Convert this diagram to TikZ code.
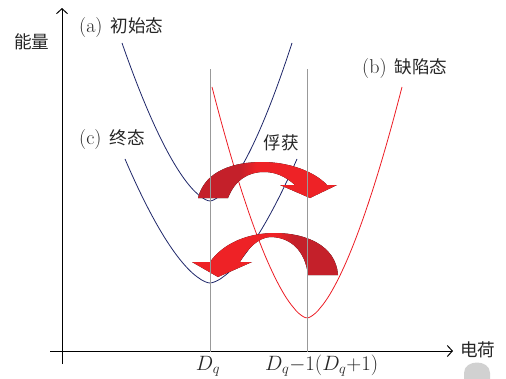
\documentclass[tikz,border=0pt]{standalone}
\usepackage{fontspec}
\newfontfamily\cjk[Scale=0.88]{Noto Sans CJK SC}
\usetikzlibrary{arrows.meta}
\definecolor{curveblue}{RGB}{30,38,105}
\definecolor{curvered}{RGB}{236,28,36}
\definecolor{arrowred}{RGB}{238,34,38}
\definecolor{arrowdark}{RGB}{196,32,42}
\pgfdeclarehorizontalshading{capshade}{100bp}{color(0bp)=(arrowdark); color(40bp)=(arrowdark); color(46bp)=(arrowred); color(100bp)=(arrowred)}
\tikzset{
	axis/.style={draw=black,line width=1pt,-{Straight Barb[length=5pt,width=11pt]}},
	guide/.style={draw=black!40,line width=1pt},
	statecurve/.style={draw=curveblue,line width=0.8pt},
	defectcurve/.style={draw=curvered,line width=0.8pt},
	bigarrow/.style={shading=capshade},
	lbl/.style={font=\fontsize{20}{22}\selectfont,text=black!85,inner sep=0pt}
}

\begin{document}
\begin{tikzpicture}[x=1pt,y=-1pt,
		declare function={well(\t,\c,\wl,\wr)=pow(abs(\t-\c)/((\t<\c)*\wl+(\t>=\c)*\wr)+0.0001,1.6);}]
	\useasboundingbox (0,0) rectangle (506,378);
	% axes
	\coordinate (ybot) at (62,364);
	\coordinate (ytop) at (62,8);
	\coordinate (xleft) at (50,351);
	\coordinate (xright) at (453,351);
	\draw[axis] (ybot) -- (ytop);
	\draw[axis] (xleft) -- (xright);
	\node[lbl] (ylab) at (32,42) {\cjk 能量};
	\node[lbl,anchor=west] (xlab) at (460,350) {\cjk 电荷};
	% potential wells
	\draw[statecurve] plot[domain=122:292,samples=80] (\x,{201-158*well(\x,210,88,82)});
	\draw[statecurve] plot[domain=125:297,samples=80] (\x,{283-124*well(\x,210,85,87)});
	\draw[defectcurve] plot[domain=212:402,samples=80] (\x,{318-231*well(\x,307,95,95)});
	% capture arrows
	\fill[bigarrow] (198,198) .. controls (205,170) and (235,162) .. (262,162)
		.. controls (290,162) and (315,172) .. (327,185) -- (337,185) -- (310,198)
		-- (280,185) -- (295,185) .. controls (285,176) and (275,172) .. (264,172)
		.. controls (248,172) and (235,180) .. (228,198) -- cycle;
	\fill[bigarrow,shading angle=180] (338,275) .. controls (336,245) and (305,233) .. (275,233)
		.. controls (245,233) and (222,245) .. (210,262) -- (192,262) -- (218,277)
		-- (252,262) -- (240,262) .. controls (248,248) and (258,238) .. (270,237)
		.. controls (290,237) and (305,250) .. (308,275) -- cycle;
	% charge levels
	\coordinate (dqtop) at (210,69);
	\coordinate (dqbot) at (210,352);
	\coordinate (dmtop) at (307,69);
	\coordinate (dmbot) at (307,352);
	\draw[guide] (dqtop) -- (dqbot);
	\draw[guide] (dmtop) -- (dmbot);
	\node[lbl] (dq) at (208,366) {$D_q$};
	\node[lbl,anchor=west] (dqm) at (265,366) {$D_q{-}1(D_q{+}1)$};
	% labels
	\node[lbl,anchor=west] (la) at (79,28) {(a)\hspace{8pt}{\cjk 初始态}};
	\node[lbl,anchor=west] (lb) at (362,69) {(b)\hspace{8pt}{\cjk 缺陷态}};
	\node[lbl,anchor=west] (lc) at (79,140) {(c)\hspace{8pt}{\cjk 终态}};
	\node[lbl] (lcap) at (281,143) {\cjk 俘获};
	% grey spot
	\fill[black!18] (464,380) -- (464,373) .. controls (464,359) and (490,359) .. (490,373) -- (490,380) -- cycle;
\end{tikzpicture}
\end{document}
